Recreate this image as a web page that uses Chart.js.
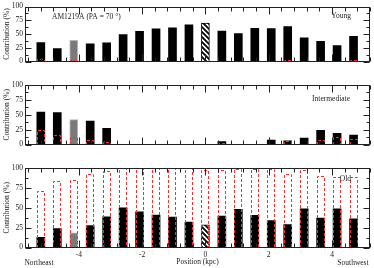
<!DOCTYPE html>
<html>
<head>
<meta charset="utf-8">
<script src="https://cdn.jsdelivr.net/npm/chart.js@4/dist/chart.umd.min.js"></script>
<style>
  html, body { margin: 0; padding: 0; background: #fff; }
  #wrap { position: relative; width: 374px; height: 268px; }
  #wrap canvas { position: absolute; left: 0; top: 0; }
</style>
</head>
<body>
<div id="wrap">
  <canvas id="youngChart" width="374" height="268"></canvas>
  <canvas id="interChart" width="374" height="268"></canvas>
  <canvas id="oldChart" width="374" height="268"></canvas>
</div>
<script>
// bin centres along the slit (kpc)
const positions = [-5.2, -4.68, -4.16, -3.64, -3.12, -2.6, -2.08, -1.56, -1.04, -0.52,
                   0, 0.52, 1.04, 1.56, 2.08, 2.6, 3.12, 3.64, 4.16, 4.68];

// light-weighted contribution (%) - solid bars
const youngLight = [34.4, 23.7, 38.6, 32.2, 34, 48.9, 55, 59.2, 61.4, 66.5,
                    70, 55.3, 50.7, 60.5, 59.7, 63.6, 43, 36.9, 28.8, 45.9];
const interLight = [54.4, 53.6, 41.8, 39.2, 27, 0, 0, 0, 0, 0,
                    0, 4.7, 0, 0, 7.6, 6, 11, 23.7, 18.6, 15.7];
const oldLight = [12.8, 23.8, 18.3, 27.6, 38.7, 49.8, 45, 40.8, 38.3, 31.9,
                  28.5, 39.6, 48, 40.4, 34, 28.9, 48.5, 37, 48.5, 36.1];

// mass-weighted contribution (%) - dashed red bars
const youngMass = [5, 1, 2.5, 1, 1, 1, 1, 1, 1, 1,
                   1.5, 1, 1, 1, 1, 2.5, 1, 1, 1, 2.5];
const interMass = [25, 15.7, 12.3, 6.8, 4.3, 0.5, 0.5, 0.5, 0.5, 0.5,
                   0, 2.5, 0.8, 0, 1.5, 6, 1.5, 8, 12.3, 9.4];
const oldMass = [70.6, 83.4, 85.5, 92.7, 96, 100, 100, 100, 100, 100,
                 98, 97, 99, 99, 99, 92, 97, 90, 88.5, 88.5];

const xTicks = [-4, -2, 0, 2, 4];
const yTicks = [0, 25, 50, 75, 100];

const grayIndex = 2;
const hatchIndex = 10;

Chart.defaults.font.family = "'Liberation Serif', 'Times New Roman', serif";
Chart.defaults.font.size = 7.5;
Chart.defaults.color = "#222";

// diagonal hatch for the nucleus bin
const hatchCanvas = document.createElement("canvas");
hatchCanvas.width = 5;
hatchCanvas.height = 5;
const hc = hatchCanvas.getContext("2d");
hc.fillStyle = "#fff";
hc.fillRect(0, 0, 5, 5);
hc.strokeStyle = "#000";
hc.lineWidth = 1.8;
hc.beginPath();
hc.moveTo(-1, -1); hc.lineTo(6, 6);
hc.moveTo(-1, 4); hc.lineTo(1, 6);
hc.moveTo(4, -1); hc.lineTo(6, 1);
hc.stroke();
const hatch = hc.createPattern(hatchCanvas, "repeat");

const barFill = positions.map((p, i) => i === grayIndex ? "#7a7a7a" : (i === hatchIndex ? hatch : "#000"));
const barEdge = positions.map((p, i) => i === grayIndex ? "#b5b5b5" : "#000");
const barEdgeWidth = positions.map((p, i) => (i === grayIndex || i === hatchIndex) ? 1 : 0);

const framePlugin = {
    id: "frame",
    afterDatasetsDraw(chart, args, opts) {
        const ctx = chart.ctx;
        const area = chart.chartArea;
        const xs = chart.scales.x;
        const ys = chart.scales.y;

        // dashed outlines for the mass fractions
        ctx.save();
        ctx.strokeStyle = "#ff2a2a";
        ctx.lineWidth = 1;
        ctx.setLineDash([3, 2]);
        chart.getDatasetMeta(1).data.forEach(bar => {
            const p = bar.getProps(["x", "y", "base", "width"], true);
            const h = p.base - p.y;
            if (h <= 0) return;
            const left = Math.round(p.x - p.width / 2) + 0.5;
            ctx.beginPath();
            ctx.moveTo(left, Math.round(p.base));
            ctx.lineTo(left, Math.round(p.y) + 0.5);
            ctx.lineTo(left + Math.round(p.width) - 1, Math.round(p.y) + 0.5);
            ctx.lineTo(left + Math.round(p.width) - 1, Math.round(p.base));
            ctx.stroke();
        });
        ctx.restore();

        // box and inward ticks
        ctx.save();
        ctx.strokeStyle = "#222";
        ctx.lineWidth = 1;
        const l = Math.round(area.left) + 0.5, r = Math.round(area.right) - 0.5;
        const t = Math.round(area.top) + 0.5, b = Math.round(area.bottom) - 0.5;
        ctx.strokeRect(l, t, r - l, b - t);
        ctx.beginPath();
        for (let k = 0; k <= 8; k++) {
            const v = k * 12.5;
            const py = Math.round(ys.getPixelForValue(v)) + 0.5;
            const len = k % 2 === 0 ? 6 : 3;
            ctx.moveTo(l, py); ctx.lineTo(l + len, py);
            ctx.moveTo(r, py); ctx.lineTo(r - len, py);
        }
        for (let k = -14; k <= 13; k++) {
            const px = Math.round(xs.getPixelForValue(k * 0.4)) + 0.5;
            const len = k % 5 === 0 ? 7 : 4;
            ctx.moveTo(px, t); ctx.lineTo(px, t + len);
            ctx.moveTo(px, b); ctx.lineTo(px, b - len);
        }
        ctx.stroke();

        // panel annotations
        ctx.fillStyle = "#222";
        ctx.font = "7.5px 'Liberation Serif'";
        ctx.textBaseline = "middle";
        (opts.labels || []).forEach(lab => {
            ctx.textAlign = lab.align;
            ctx.fillText(lab.text, lab.x, lab.y);
        });
        ctx.restore();
    }
};

function makePanel(id, light, mass, pad, showX, labels) {
    return new Chart(document.getElementById(id), {
        type: "bar",
        data: {
            datasets: [{
                data: positions.map((p, i) => ({ x: p, y: light[i] })),
                backgroundColor: barFill,
                borderColor: barEdge,
                borderWidth: barEdgeWidth,
                grouped: false,
                barThickness: 8
            }, {
                data: positions.map((p, i) => ({ x: p, y: mass[i] })),
                backgroundColor: "rgba(0,0,0,0)",
                borderWidth: 0,
                grouped: false,
                barThickness: 8
            }]
        },
        options: {
            responsive: false,
            animation: false,
            events: [],
            layout: { padding: { top: pad.top, bottom: pad.bottom, left: 0, right: 4 } },
            plugins: {
                legend: { display: false },
                tooltip: { enabled: false },
                frame: { labels: labels }
            },
            scales: {
                x: {
                    type: "linear",
                    min: -5.7,
                    max: 5.2,
                    offset: false,
                    display: showX,
                    grid: { display: false, drawTicks: false },
                    border: { display: false },
                    afterBuildTicks: s => { s.ticks = xTicks.map(v => ({ value: v })); },
                    afterFit: s => { s.height = 20.5; },
                    ticks: { padding: 3, maxRotation: 0, autoSkip: false },
                    title: { display: true, text: "Position (kpc)", padding: { top: 0, bottom: 1 } }
                },
                y: {
                    min: 0,
                    max: 100,
                    grid: { display: false, drawTicks: false },
                    border: { display: false },
                    afterBuildTicks: s => { s.ticks = yTicks.map(v => ({ value: v })); },
                    afterFit: s => { s.width = 25; },
                    ticks: { padding: 2 },
                    title: { display: true, text: "Contribution (%)", padding: { top: 2.5, bottom: 0 } }
                }
            }
        },
        plugins: [framePlugin]
    });
}

makePanel("youngChart", youngLight, youngMass, { top: 4, bottom: 186 }, false, [
    { text: "AM1219A (PA = 70 °)", x: 52, y: 17, align: "left" },
    { text: "Young", x: 351, y: 16, align: "right" }
]);
makePanel("interChart", interLight, interMass, { top: 85, bottom: 103 }, false, [
    { text: "Intermediate", x: 350, y: 99, align: "right" }
]);
makePanel("oldChart", oldLight, oldMass, { top: 168, bottom: 0 }, true, [
    { text: "Old", x: 351, y: 179, align: "right" },
    { text: "Northeast", x: 39, y: 263.5, align: "center" },
    { text: "Southwest", x: 353, y: 263, align: "center" }
]);
</script>
</body>
</html>
